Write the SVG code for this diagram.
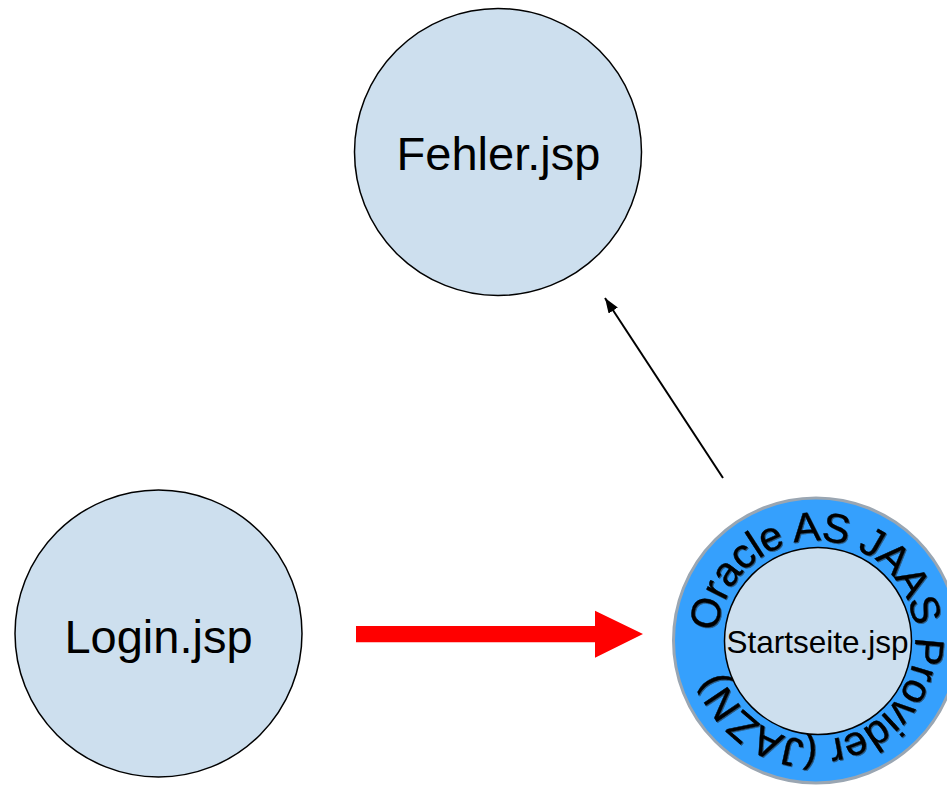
<svg xmlns="http://www.w3.org/2000/svg" xmlns:xlink="http://www.w3.org/1999/xlink" width="947" height="787" viewBox="0 0 947 787">
  <style>
    .node { fill: #cddfee; stroke: #000; stroke-width: 1.5; }
    .label { font-family: "Liberation Sans", Arial, sans-serif; fill: #000; text-anchor: middle; }
    .ring { fill: #35a0fd; stroke: #9aa6b2; stroke-width: 3; }
    .ringtext { font-family: "Liberation Sans", Arial, sans-serif; font-size: 41px; fill: #000; stroke: #000; stroke-width: 0.4; }
  </style>
  <defs>
    <marker id="ah" markerUnits="userSpaceOnUse" markerWidth="15" markerHeight="11" refX="15" refY="5.5" orient="auto">
      <path d="M0,0 L15,5.5 L0,11 z" fill="#000"/>
    </marker>
    <filter id="sh" x="-10%" y="-10%" width="120%" height="120%">
      <feDropShadow dx="1" dy="1" stdDeviation="0.7" flood-color="#222" flood-opacity="0.6"/>
    </filter>
    <path id="ringpath" d="M 717.38 631.87 A 99 99 0 1 1 914.62 649.13 A 99 99 0 1 1 717.38 631.87"/>
  </defs>
  <rect width="947" height="787" fill="#fff"/>

  <g id="connectors">
    <line x1="723" y1="478" x2="605" y2="298" stroke="#000" stroke-width="2" marker-end="url(#ah)"/>
    <polygon points="356,626 595,626 595,610.7 643,634 595,657.7 595,642.3 356,642.3" fill="#ff0000"/>
  </g>

  <g id="fehler">
    <circle class="node" cx="498" cy="152" r="143.5"/>
    <text class="label" x="498.5" y="170" font-size="47">Fehler.jsp</text>
  </g>

  <g id="login">
    <circle class="node" cx="158.5" cy="633.5" r="143.5"/>
    <text class="label" x="158.5" y="653" font-size="47">Login.jsp</text>
  </g>

  <g id="jazn">
    <circle class="ring" cx="816" cy="640.5" r="142.5"/>
    <text class="ringtext" filter="url(#sh)"><textPath xlink:href="#ringpath" href="#ringpath" textLength="584" lengthAdjust="spacing">Oracle AS JAAS Provider (JAZN)</textPath></text>
  </g>

  <g id="startseite">
    <circle class="node" cx="818" cy="641" r="93.5"/>
    <text class="label" x="817.5" y="652.7" font-size="31.5">Startseite.jsp</text>
  </g>
</svg>
